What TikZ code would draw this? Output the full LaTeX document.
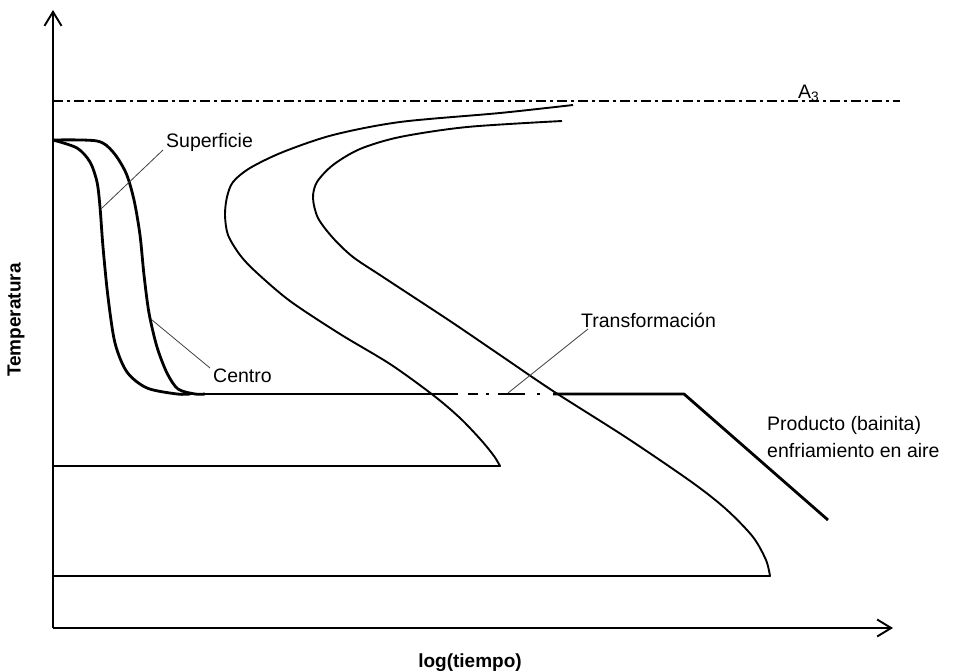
\documentclass[tikz,border=0pt]{standalone}
\usepackage{fontspec}
\setmainfont{Liberation Sans}
\usetikzlibrary{arrows.meta}
\begin{document}
\begin{tikzpicture}[x=1pt,y=-1pt,
  axis/.style={line width=1.9pt,-{Straight Barb[length=14pt,width=17pt,line width=1.9pt]}},
  ccurve/.style={line width=1.9pt,line join=round},
  cooling/.style={line width=2.8pt,line join=round},
  leader/.style={line width=0.8pt,black!75},
  lbl/.style={inner sep=0pt,font=\fontsize{19.5}{23}\selectfont},
  axlbl/.style={inner sep=0pt,font=\fontsize{19}{23}\selectfont\bfseries},
  a3line/.style={line width=1.9pt,dash pattern=on 10pt off 4pt on 3pt off 4pt}]
\useasboundingbox (0,0) rectangle (964,672);

% axes
\coordinate (O) at (53,628);
\coordinate (ytip) at (53,10);
\coordinate (xtip) at (893,628);
\draw[axis] (O) -- (ytip);
\draw[axis] (O) -- (xtip);
\node[axlbl,rotate=90] (ylab) at (16,320) {Temperatura};
\node[axlbl,anchor=base] (xlab) at (470,667) {log(tiempo)};

% A3 line
\coordinate (a3l) at (53,101);
\coordinate (a3r) at (900,101);
\draw[a3line] (a3l) -- (a3r);
\node[lbl,anchor=base west] (a3) at (798,98) {A\textsubscript{3}};

% start of transformation curve (inner C)
\draw[ccurve] plot[smooth,tension=0.5] coordinates {
  (573,105) (500,113) (400,122) (333,135) (283,152) (250,168) (233,182)
  (227,197) (225,215) (228,235) (240,255) (256,272) (290,301) (340,334)
  (390,364) (433,395) (460,418) (481,440) (494,456) (500,466)}
  -- (53,466);

% end of transformation curve (outer C)
\draw[ccurve] plot[smooth,tension=0.5] coordinates {
  (562,121) (467,127) (400,137) (360,149) (333,165) (317,182) (313,198)
  (318,218) (333,238) (353,257) (383,277) (450,321) (500,355) (553,391)
  (627,438) (693,483) (727,510) (753,537) (766,560) (770,576)}
  -- (53,576);

% cooling curves: surface and centre
\draw[cooling] plot[smooth,tension=0.5] coordinates {
  (53,140) (77,148) (90,162) (97,182) (100,207) (103,247) (108,297)
  (115,343) (127,372) (147,388) (177,394) (190,394)};
\draw[cooling] plot[smooth,tension=0.5] coordinates {
  (53,140) (97,141) (113,152) (126,173) (134,200) (140,235) (144,275)
  (149,313) (157,347) (167,373) (178,389) (195,394) (205,394)};

% isothermal hold with the interrupted stretch, then air cooling
\coordinate (h0) at (180,394);
\coordinate (h1) at (458,394);
\coordinate (h2) at (553,394);
\coordinate (hc) at (684,394);
\coordinate (hend) at (828,520);
\draw[cooling] (h0) -- (h1);
\draw[cooling] (468,394) -- (478,394);
\draw[cooling] (486,394) -- (489,394);
\draw[cooling] (498,394) -- (525,394);
\draw[cooling] (537,394) -- (540,394);
\draw[cooling,line cap=butt] (h2) -- (hc) -- (hend);

% labels and leaders
\node[lbl,anchor=base west] (sup) at (166,147) {Superficie};
\coordinate (supA) at (102,208);
\coordinate (supB) at (163,150);
\draw[leader] (supA) -- (supB);

\node[lbl,anchor=base west] (cen) at (213,382) {Centro};
\coordinate (cenA) at (152,320);
\coordinate (cenB) at (210,368);
\draw[leader] (cenA) -- (cenB);

\node[lbl,anchor=base west] (tr) at (581,327) {Transformación};
\coordinate (trA) at (508,393);
\coordinate (trB) at (588,329);
\draw[leader] (trA) -- (trB);

\node[lbl,anchor=base west] (prod1) at (767,430) {Producto (bainita)};
\node[lbl,anchor=base west] (prod2) at (767,457) {enfriamiento en aire};
\end{tikzpicture}
\end{document}
